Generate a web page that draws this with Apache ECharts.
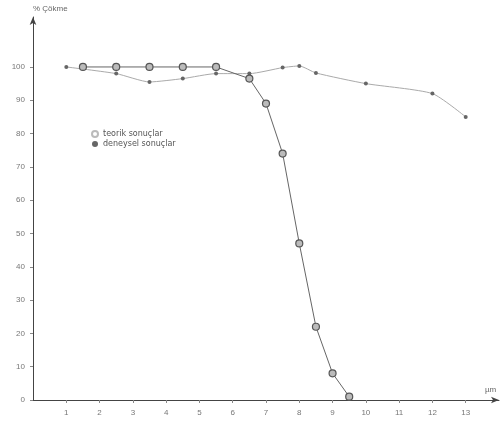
<!DOCTYPE html>
<html>
<head>
<meta charset="utf-8">
<script src="https://cdn.jsdelivr.net/npm/echarts@6/dist/echarts.min.js"></script>
<style>
  html, body { margin: 0; padding: 0; background: #fff; }
  #main { width: 501px; height: 431px; }
</style>
</head>
<body>
<div id="main"></div>
<script>
// teorik sonuçlar (büyük halkalar)
const teorikX = [1.5, 2.5, 3.5, 4.5, 5.5, 6.5, 7, 7.5, 8, 8.5, 9, 9.5]
const teorikY = [100, 100, 100, 100, 100, 96.5, 89, 74, 47, 22, 8, 1]
// deneysel sonuçlar (küçük noktalar)
const deneyselX = [1, 2.5, 3.5, 4.5, 5.5, 6.5, 7.5, 8, 8.5, 10, 12, 13]
const deneyselY = [100, 98, 95.5, 96.5, 98, 98, 99.8, 100.3, 98.2, 95, 92, 85]
const xTicks = [1, 2, 3, 4, 5, 6, 7, 8, 9, 10, 11, 12, 13]
const yTicks = [0, 10, 20, 30, 40, 50, 60, 70, 80, 90, 100]

const pairs = (xs, ys) => xs.map((x, i) => [x, ys[i]])

let myChart = echarts.init(document.getElementById('main'))
const axisColor = '#444'
const labelColor = '#777'

let option = {
  backgroundColor: '#fff',
  animation: false,
  grid: { left: 33, right: 2, top: 17, bottom: 31 },
  legend: {
    orient: 'vertical',
    left: 86,
    top: 125,
    itemWidth: 6,
    itemHeight: 6,
    itemGap: 2,
    textStyle: { fontSize: 8, color: '#555', fontFamily: 'DejaVu Sans' },
    data: [
      { name: 'teorik sonuçlar', icon: 'emptyCircle' },
      { name: 'deneysel sonuçlar', icon: 'circle' },
    ],
  },
  xAxis: {
    type: 'value',
    min: 0,
    max: 14,
    interval: 1,
    name: 'µm',
    nameLocation: 'end',
    nameGap: -14,
    nameTextStyle: { fontSize: 8, color: '#666', verticalAlign: 'bottom', padding: [0, 0, 6, 0] },
    splitLine: { show: false },
    axisLine: {
      onZero: false,
      symbol: ['none', 'arrow'],
      symbolSize: [5, 8],
      lineStyle: { color: axisColor, width: 1 },
    },
    axisTick: { customValues: xTicks, length: 3, lineStyle: { color: '#888' } },
    axisLabel: {
      customValues: xTicks,
      fontSize: 8,
      color: labelColor,
      margin: 9,
    },
  },
  yAxis: {
    type: 'value',
    min: 0,
    max: 115,
    interval: 10,
    name: '% Çökme',
    nameLocation: 'end',
    nameGap: 4,
    nameTextStyle: { fontSize: 8, color: '#666', align: 'left', padding: [0, 0, 0, 0] },
    splitLine: { show: false },
    axisLine: {
      symbol: ['none', 'arrow'],
      symbolSize: [5, 8],
      lineStyle: { color: axisColor, width: 1 },
    },
    axisTick: { customValues: yTicks, length: 3, lineStyle: { color: '#888' } },
    axisLabel: {
      customValues: yTicks,
      fontSize: 8,
      color: labelColor,
      margin: 8,
    },
  },
  series: [
    {
      name: 'teorik sonuçlar',
      type: 'line',
      data: pairs(teorikX, teorikY),
      symbol: 'circle',
      symbolSize: 7,
      itemStyle: { color: '#bbb', borderColor: '#555', borderWidth: 1.2 },
      lineStyle: { color: '#666', width: 1 },
      z: 3,
    },
    {
      name: 'deneysel sonuçlar',
      type: 'line',
      smooth: 0.2,
      data: pairs(deneyselX, deneyselY),
      symbol: 'circle',
      symbolSize: 4,
      itemStyle: { color: '#666' },
      lineStyle: { color: '#aaa', width: 1 },
      z: 2,
    },
  ],
}

myChart.setOption(option)
window.addEventListener('resize', function () {
  myChart.resize()
})
</script>
</body>
</html>
